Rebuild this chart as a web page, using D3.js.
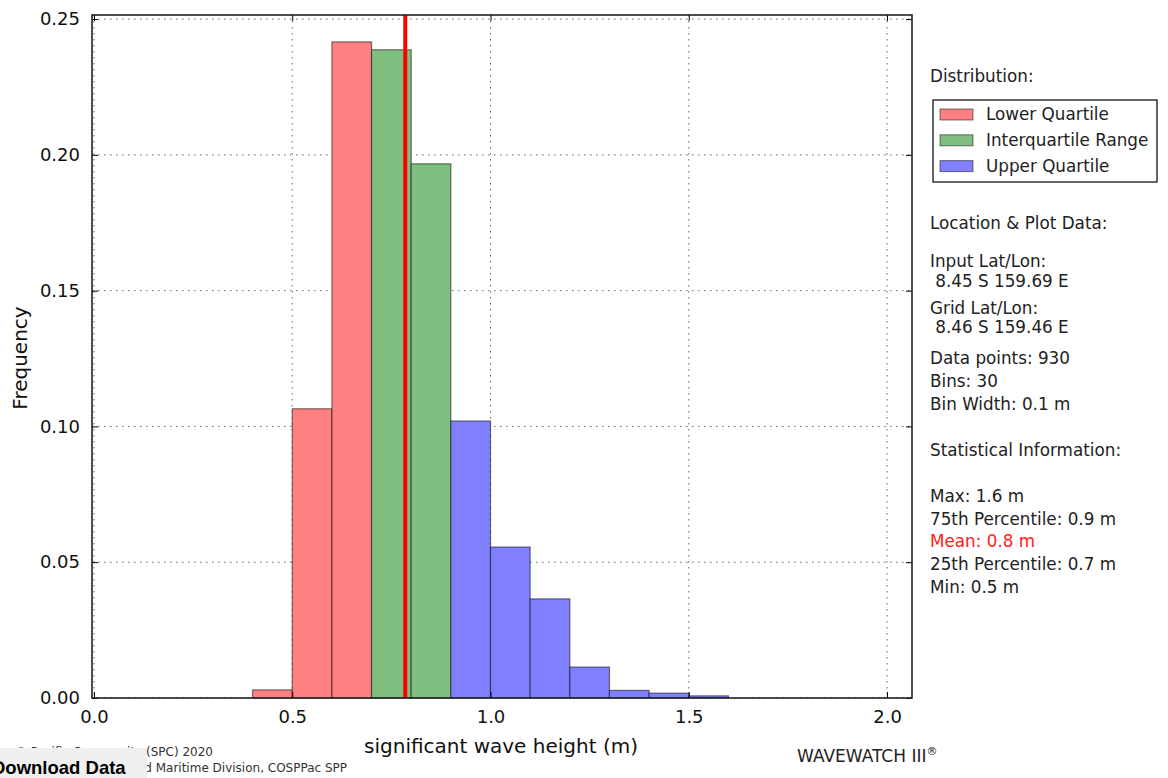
<!DOCTYPE html>
<html><head><meta charset="utf-8">
<script src="https://cdn.jsdelivr.net/npm/d3@7"></script>
<style>body{margin:0;background:#fff;}svg{display:block;font-family:"DejaVu Sans",sans-serif;}</style>
</head><body>
<svg id="chart" width="1168" height="778"></svg>
<script>
// ---- data ----
const binStarts = [0.4, 0.5, 0.6, 0.7, 0.8, 0.9, 1.0, 1.1, 1.2, 1.3, 1.4, 1.5];
const frequencies = [0.003, 0.1065, 0.2416, 0.2387, 0.1967, 0.102, 0.0556, 0.0365, 0.0114, 0.0028, 0.0018, 0.0008];
const binGroups = ["lower","lower","lower","iqr","iqr","upper","upper","upper","upper","upper","upper","upper"];
const binWidth = 0.1;
const meanValue = 0.785;
const xTicks = [0.0, 0.5, 1.0, 1.5, 2.0];
const yTicks = [0.00, 0.05, 0.10, 0.15, 0.20, 0.25];
const legendLabels = ["Lower Quartile", "Interquartile Range", "Upper Quartile"];
const legendKeys = ["lower", "iqr", "upper"];
const infoLines = [
  {t:"Location & Plot Data:", y:223},
  {t:"Input Lat/Lon:", y:261},
  {t:" 8.45 S 159.69 E", y:281},
  {t:"Grid Lat/Lon:", y:308},
  {t:" 8.46 S 159.46 E", y:327},
  {t:"Data points: 930", y:358},
  {t:"Bins: 30", y:381},
  {t:"Bin Width: 0.1 m", y:404},
  {t:"Statistical Information:", y:450},
  {t:"Max: 1.6 m", y:496},
  {t:"75th Percentile: 0.9 m", y:519},
  {t:"Mean: 0.8 m", y:541, red:true},
  {t:"25th Percentile: 0.7 m", y:564},
  {t:"Min: 0.5 m", y:587}
];

const colors = {lower:"#ff8080", iqr:"#80bf80", upper:"#8080ff"};

const svg = d3.select("#chart");
const L = 92, R = 912, T = 15, B = 698;
const x = d3.scaleLinear().domain([-0.005, 2.063]).range([L, R]);
const y = d3.scaleLinear().domain([0, 0.2515]).range([B, T]);

// grid
const g = svg.append("g");
g.selectAll(".gx").data(xTicks).join("line")
  .attr("x1", d=>x(d)).attr("x2", d=>x(d)).attr("y1", T).attr("y2", B)
  .attr("stroke","#000").attr("stroke-width",1).attr("stroke-dasharray","1.5,4.5").attr("stroke-opacity",0.6);
g.selectAll(".gy").data(yTicks).join("line")
  .attr("x1", L).attr("x2", R).attr("y1", d=>y(d)).attr("y2", d=>y(d))
  .attr("stroke","#000").attr("stroke-width",1).attr("stroke-dasharray","1.5,4.5").attr("stroke-opacity",0.6);

// bars
const bars = binStarts.map((s,i)=>({s, f:frequencies[i], g:binGroups[i]}));
svg.append("g").selectAll("rect").data(bars).join("rect")
  .attr("x", d=>x(d.s)).attr("width", d=>x(d.s+binWidth)-x(d.s))
  .attr("y", d=>y(d.f)).attr("height", d=>y(0)-y(d.f))
  .attr("fill", d=>colors[d.g])
  .attr("stroke", "rgba(0,0,0,0.5)").attr("stroke-width", 1.2);

// mean line
svg.append("line").attr("x1", x(meanValue)).attr("x2", x(meanValue)).attr("y1", T).attr("y2", B)
  .attr("stroke","#ff0000").attr("stroke-width",4);

// axes
const xAxisB = d3.axisBottom(x).tickValues(xTicks).tickFormat(d3.format(".1f")).tickSizeInner(-6).tickSizeOuter(0).tickPadding(12);
const xAxisT = d3.axisTop(x).tickValues(xTicks).tickFormat("").tickSizeInner(-6).tickSizeOuter(0);
const yAxisL = d3.axisLeft(y).tickValues(yTicks).tickFormat(d3.format(".2f")).tickSizeInner(-6).tickSizeOuter(0).tickPadding(12);
const yAxisR = d3.axisRight(y).tickValues(yTicks).tickFormat("").tickSizeInner(-6).tickSizeOuter(0);
function style(sel){
  sel.select(".domain").remove();
  sel.selectAll("line").attr("stroke","#000").attr("stroke-width",1);
  sel.selectAll("text").attr("font-size","18px").attr("fill","#111").attr("font-family","DejaVu Sans");
}
svg.append("g").attr("transform",`translate(0,${B})`).call(xAxisB).call(style);
svg.append("g").attr("transform",`translate(0,${T})`).call(xAxisT).call(style);
svg.append("g").attr("transform",`translate(${L},0)`).call(yAxisL).call(style);
svg.append("g").attr("transform",`translate(${R},0)`).call(yAxisR).call(style);

// frame
svg.append("rect").attr("x",L).attr("y",T).attr("width",R-L).attr("height",B-T)
  .attr("fill","none").attr("stroke","#222").attr("stroke-width",1.6);

// axis labels
svg.append("text").attr("x", 501).attr("y", 753).attr("text-anchor","middle")
  .attr("font-size","20px").attr("fill","#111").text("significant wave height (m)");
svg.append("text").attr("transform","translate(27,358) rotate(-90)").attr("text-anchor","middle")
  .attr("font-size","20px").attr("fill","#111").text("Frequency");

// legend
const fs = "16.8px";
const info = svg.append("g").attr("font-size",fs).attr("fill","#222");
info.append("text").attr("x",930).attr("y",82).text("Distribution:");
svg.append("rect").attr("x",933).attr("y",100).attr("width",224).attr("height",82)
  .attr("fill","#fff").attr("stroke","#000").attr("stroke-width",1.2);
legendKeys.forEach((k,i)=>{
  const cy = 114 + i*25.8;
  svg.append("rect").attr("x",940).attr("y",cy-5).attr("width",33).attr("height",11)
    .attr("fill",colors[k]).attr("stroke","rgba(0,0,0,0.5)").attr("stroke-width",1);
  svg.append("text").attr("x",986).attr("y",cy+6).attr("font-size",fs).attr("fill","#222").text(legendLabels[i]);
});
infoLines.forEach(l=>{
  info.append("text").attr("x",930).attr("y",l.y+6).attr("fill", l.red ? "#ff2020" : "#222")
    .attr("xml:space","preserve").style("white-space","pre").text(l.t);
});

// footer
const foot = svg.append("g").attr("font-size","12px").attr("fill","#333");
foot.append("text").attr("x",213).attr("y",756).attr("text-anchor","end").text("© Pacific Community (SPC) 2020");
foot.append("text").attr("x",347).attr("y",772).attr("text-anchor","end").text("Geoscience, Energy and Maritime Division, COSPPac SPP");
svg.append("rect").attr("x",0).attr("y",748).attr("width",147).attr("height",30).attr("fill","#efefef");
svg.append("text").attr("x",-8).attr("y",774).attr("font-family","Liberation Sans, Arial, sans-serif")
  .attr("font-weight","bold").attr("font-size","18.5px").attr("fill","#000").text("Download Data");
const ww = svg.append("text").attr("x",797).attr("y",762).attr("font-size","17px").attr("fill","#222");
ww.append("tspan").text("WAVEWATCH III");
ww.append("tspan").attr("font-size","11px").attr("dy",-7).text("®");
</script>
</body></html>
